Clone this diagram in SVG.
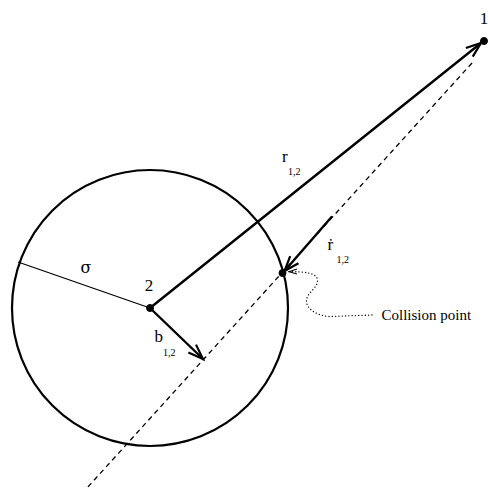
<svg xmlns="http://www.w3.org/2000/svg" width="488" height="489" viewBox="0 0 488 489">
<style>
.lbl{font-family:"Liberation Serif","Times New Roman",serif;fill:#000}
.big{font-size:17px}
.sub{font-size:10px}
.vec{fill:none;stroke:#000;stroke-width:2.4;stroke-linecap:round}
.thin{fill:none;stroke:#000;stroke-width:1.3}
.dash{fill:none;stroke:#000;stroke-width:1.3;stroke-dasharray:5 4}
.dot{fill:none;stroke:#000;stroke-width:1.3;stroke-dasharray:0.1 3.2;stroke-linecap:round}
.node{fill:#000;stroke:#000;stroke-width:1}
</style>
<defs>
<marker id="ah" markerUnits="userSpaceOnUse" markerWidth="20" markerHeight="20" viewBox="-16 -10 20 20" refX="0" refY="0" orient="auto">
<path d="M-15,-5.5 L0,0 L-15,5.5" fill="none" stroke="#000" stroke-width="2.2" stroke-linejoin="miter"/>
</marker>
<marker id="ahs" markerUnits="userSpaceOnUse" markerWidth="12" markerHeight="12" viewBox="-10 -6 12 12" refX="0" refY="0" orient="auto">
<path d="M-8,-2.5 L0,0 L-8,2.5" fill="none" stroke="#000" stroke-width="1"/>
</marker>
</defs>
<g id="sphere">
<circle cx="150" cy="308" r="138" fill="none" stroke="#000" stroke-width="2.2"/>
</g>
<g id="connectors">
<line class="dash" x1="472" y1="63" x2="87" y2="488"/>
<line class="thin" x1="18" y1="262" x2="150" y2="308"/>
<line class="vec" x1="150" y1="308" x2="481" y2="43" marker-end="url(#ah)"/>
<line class="vec" x1="150" y1="308" x2="203" y2="359" marker-end="url(#ah)"/>
<line class="vec" x1="331.5" y1="217" x2="284.5" y2="271" marker-end="url(#ah)"/>
<path class="dot" d="M372,315 L330,316.5 C316,316 305.5,308 306.5,300 C307.5,292 318,288 317.5,280 C317,273 305,271.5 289,271.7" marker-end="url(#ahs)"/>
</g>
<g id="node1">
<circle class="node" cx="484" cy="41" r="3.5"/>
<text class="lbl big" x="484" y="24" text-anchor="middle">1</text>
</g>
<g id="node2">
<circle class="node" cx="150" cy="308" r="3.5"/>
<text class="lbl big" x="149" y="291" text-anchor="middle">2</text>
</g>
<g id="collision">
<circle class="node" cx="282.5" cy="273" r="3.5"/>
<text class="lbl" style="font-size:15px" x="381.5" y="320">Collision point</text>
</g>
<g id="labels">
<text class="lbl big" x="86" y="273" text-anchor="middle" style="font-family:'DejaVu Serif','Liberation Serif',serif;font-size:16px">σ</text>
<text class="lbl big" x="282" y="161.5">r</text>
<text class="lbl sub" x="288" y="174.5">1,2</text>
<text class="lbl big" x="327.5" y="250">ṙ</text>
<text class="lbl sub" x="336.5" y="262.5">1,2</text>
<text class="lbl big" x="154.5" y="342">b</text>
<text class="lbl sub" x="163" y="355.5">1,2</text>
</g>
</svg>
